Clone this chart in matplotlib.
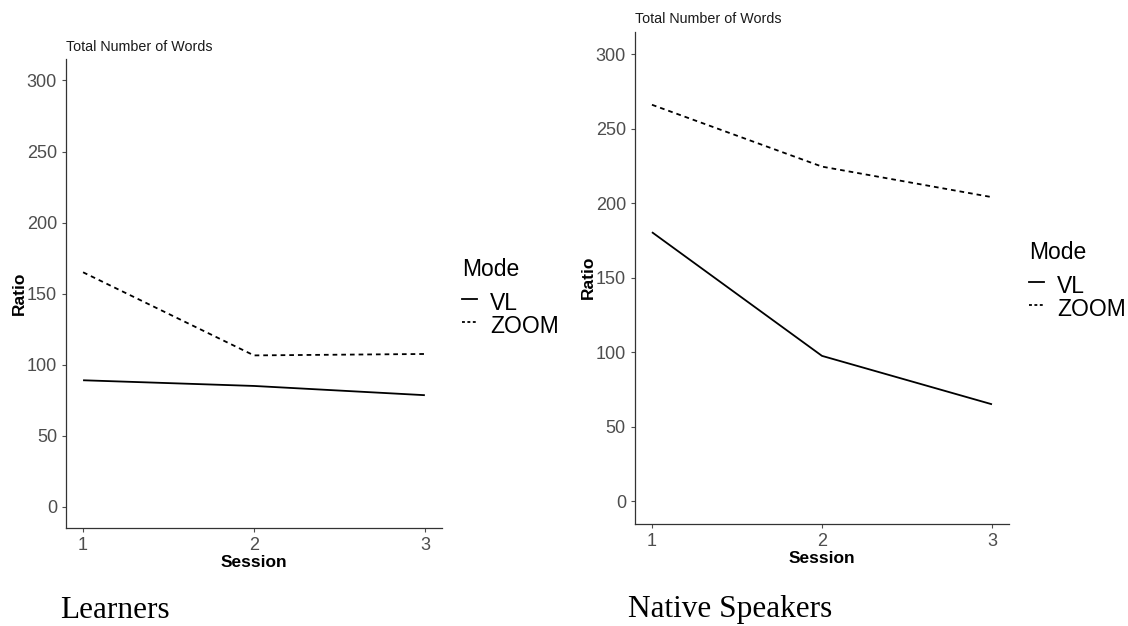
import matplotlib.pyplot as plt
from matplotlib.lines import Line2D

sessions = [1, 2, 3]
learners_vl = [89, 85, 78.5]
learners_zoom = [165, 106.5, 107.5]
native_vl = [180.5, 97.5, 65]
native_zoom = [266, 224.5, 204]

modes = ["VL", "ZOOM"]
yticks = [0, 50, 100, 150, 200, 250, 300]

plt.rcParams['font.family'] = ['Liberation Sans', 'DejaVu Sans']

DASH = (0, (2.6, 2.2))
KEY_DASH = (0, (1.6, 1.4))
W, H = 1128, 626


def draw_panel(ax, vl, zoom):
    ax.plot(sessions, vl, color="black", lw=1.3, solid_capstyle="butt")
    ax.plot(sessions, zoom, color="black", lw=1.3, linestyle=DASH)
    ax.set_xlim(0.9, 3.1)
    ax.set_ylim(-15, 315)
    ax.set_xticks(sessions)
    ax.set_yticks(yticks)
    ax.tick_params(axis="both", labelsize=13, colors="#4D4D4D", length=3, width=0.8,
                   labelcolor="#4D4D4D")
    for side in ["top", "right"]:
        ax.spines[side].set_visible(False)
    for side in ["left", "bottom"]:
        ax.spines[side].set_color("#333333")
        ax.spines[side].set_linewidth(0.9)
    ax.set_xlabel("Session", fontsize=12.5, fontweight="bold", labelpad=1)
    ax.set_ylabel("Ratio", fontsize=12.5, fontweight="bold", labelpad=0)
    ax.set_title("Total Number of Words", fontsize=10.3, loc="left", pad=6, color="#1A1A1A")


def draw_legend(fig, x, y_title, y_first):
    # x, y in pixels from top-left
    fig.text(x / W, 1 - y_title / H, "Mode", fontsize=16.5, va="baseline", ha="left")
    styles = ["-", KEY_DASH]
    for i, (lab, ls) in enumerate(zip(modes, styles)):
        yb = y_first + i * 23
        yk = yb - 11
        fig.add_artist(Line2D([x / W, (x + 15) / W], [1 - yk / H, 1 - yk / H],
                              color="black", lw=1.3, linestyle=ls))
        fig.text((x + 28) / W, 1 - yb / H, lab, fontsize=16.5, va="baseline", ha="left")


fig = plt.figure(figsize=(11.28, 6.26), dpi=100)
ax1 = fig.add_axes([0.0585, 0.1565, 0.3333, 0.749])
ax2 = fig.add_axes([0.5629, 0.1637, 0.3316, 0.7856])

draw_panel(ax1, learners_vl, learners_zoom)
draw_panel(ax2, native_vl, native_zoom)

draw_legend(fig, 462, 276, 310)
draw_legend(fig, 1029, 259, 293)

fig.text(60 / W, 1 - 610 / H, "Learners", fontsize=22.5, family="Liberation Serif",
         va="center", ha="left")
fig.text(628 / W, 1 - 610 / H, "Native Speakers", fontsize=22.5, family="Liberation Serif",
         va="center", ha="left")

fig.savefig("out.png", dpi=100)
